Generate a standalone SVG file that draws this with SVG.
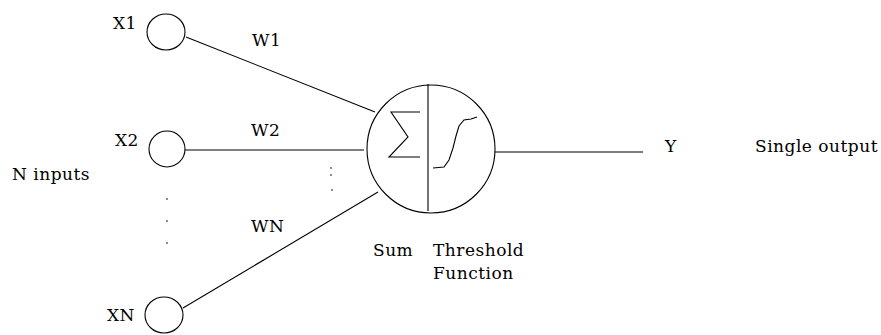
<svg xmlns="http://www.w3.org/2000/svg" width="881" height="335" viewBox="0 0 881 335">
<style>
text{font-family:'DejaVu Serif','Liberation Serif',serif;font-size:17px;letter-spacing:0.5px;fill:#000}
.s{fill:none;stroke:#000;stroke-width:1.1}
.dot{fill:#555}
</style>
<rect width="881" height="335" fill="#fff"/>
<g id="connectors">
<line class="s" x1="186" y1="37" x2="375" y2="112"/>
<line class="s" x1="185" y1="150" x2="364" y2="150"/>
<line class="s" x1="183" y1="308" x2="378" y2="192"/>
<line class="s" x1="495" y1="152" x2="643" y2="152"/>
</g>
<g id="x1">
<ellipse class="s" cx="166" cy="32" rx="19" ry="18"/>
<text x="113" y="29">X1</text>
</g>
<g id="x2">
<circle class="s" cx="167" cy="149" r="18"/>
<text x="115" y="146">X2</text>
</g>
<g id="xn">
<ellipse class="s" cx="164" cy="315" rx="19" ry="18"/>
<text x="107" y="321">XN</text>
</g>
<g id="dots">
<circle class="dot" cx="167" cy="199" r="0.9"/>
<circle class="dot" cx="167" cy="221" r="0.9"/>
<circle class="dot" cx="167" cy="243" r="0.9"/>
<circle class="dot" cx="331" cy="168" r="0.9"/>
<circle class="dot" cx="331" cy="175" r="0.9"/>
<circle class="dot" cx="332" cy="190" r="0.9"/>
</g>
<g id="neuron">
<circle class="s" cx="431" cy="149" r="64"/>
<line class="s" x1="428" y1="84" x2="428" y2="211" stroke-width="1.6"/>
<polyline class="s" stroke-width="1.6" points="420,112 391,112 408,137 389,157 420,157"/>
<polyline class="s" stroke-width="1.4" points="433,168 444,167 449,160 453,148 456,136 459,126 464,120 471,119 477,117"/>
<text x="373" y="256">Sum</text>
<text x="433" y="256">Threshold</text>
<text x="433" y="279">Function</text>
</g>
<g id="labels">
<text x="12" y="180">N inputs</text>
<text x="252" y="46">W1</text>
<text x="251" y="136">W2</text>
<text x="251" y="232">WN</text>
<text x="665" y="152">Y</text>
<text x="755" y="152">Single output</text>
</g>
</svg>
